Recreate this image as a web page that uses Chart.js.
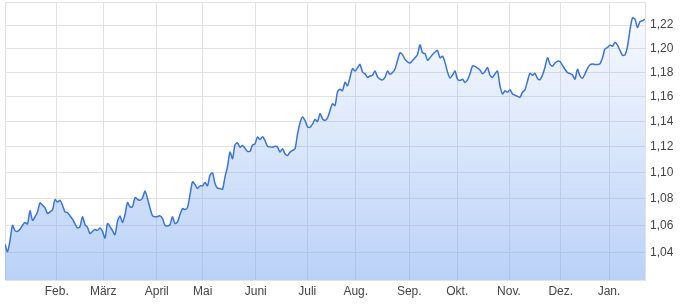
<!DOCTYPE html>
<html>
<head>
<meta charset="utf-8">
<script src="https://cdn.jsdelivr.net/npm/chart.js@4"></script>
<style>
  html, body { margin: 0; padding: 0; background: #fff; }
  #wrap { width: 680px; height: 308px; }
</style>
</head>
<body>
<div id="wrap"><canvas id="chart" width="680" height="308"></canvas></div>
<script>
// daily closes, one per trading day (index 0 = first day shown)
const closeValues = [
  1.046, 1.0405, 1.0487, 1.060, 1.056, 1.0555, 1.057, 1.060, 1.062, 1.061,
  1.0708, 1.0637, 1.0663, 1.070, 1.0768, 1.075, 1.073, 1.0688, 1.070, 1.0715,
  1.0793, 1.0775, 1.0787, 1.075, 1.070, 1.0695, 1.067, 1.0645, 1.061, 1.058,
  1.059, 1.0663, 1.0605, 1.0585, 1.0538, 1.0555, 1.0568, 1.0562, 1.058, 1.0555,
  1.0505, 1.0613, 1.059, 1.056, 1.053, 1.063, 1.067, 1.062, 1.068, 1.077,
  1.0738, 1.0738, 1.0808, 1.0795, 1.0787, 1.0805, 1.0859, 1.080, 1.073, 1.0672,
  1.0663, 1.0665, 1.067, 1.065, 1.060, 1.0595, 1.0605, 1.0663, 1.0613, 1.0625,
  1.068, 1.0725, 1.0718, 1.0733, 1.083, 1.0928, 1.0908, 1.0877, 1.0898, 1.0898,
  1.0923, 1.0898, 1.098, 1.0998, 1.0915, 1.088, 1.0877, 1.0872, 1.0967, 1.1044,
  1.1159, 1.1108, 1.1216, 1.1232, 1.1198, 1.121, 1.119, 1.1165, 1.1165, 1.1215,
  1.1224, 1.1278, 1.1258, 1.128, 1.125, 1.1205, 1.12, 1.1198, 1.1204, 1.12,
  1.116, 1.1185, 1.1146, 1.1133, 1.1159, 1.1172, 1.1185, 1.13, 1.139, 1.1438,
  1.141, 1.136, 1.1355, 1.138, 1.1418, 1.1402, 1.1464, 1.1424, 1.141, 1.143,
  1.149, 1.1544, 1.153, 1.164, 1.1662, 1.1651, 1.1719, 1.1692, 1.176, 1.1833,
  1.1813, 1.184, 1.1868, 1.1805, 1.179, 1.176, 1.1772, 1.1778, 1.1813, 1.1765,
  1.1746, 1.174, 1.176, 1.1813, 1.1786, 1.18, 1.183, 1.19, 1.1965, 1.195,
  1.191, 1.189, 1.188, 1.19, 1.1923, 1.1951, 1.2033, 1.1965, 1.1959, 1.1904,
  1.1923, 1.1951, 1.197, 1.1985, 1.1923, 1.1937, 1.1885, 1.1805, 1.1755, 1.178,
  1.1813, 1.1745, 1.1735, 1.1745, 1.1719, 1.174, 1.179, 1.1855, 1.1852, 1.1838,
  1.1821, 1.179, 1.181, 1.1841, 1.1778, 1.176, 1.179, 1.1813, 1.169, 1.1624,
  1.1651, 1.1638, 1.1659, 1.1624, 1.1615, 1.1605, 1.1598, 1.1638, 1.166, 1.173,
  1.1794, 1.1778, 1.1794, 1.175, 1.1741, 1.178, 1.1845, 1.1923, 1.187, 1.1854,
  1.188, 1.1895, 1.1892, 1.186, 1.1827, 1.18, 1.1792, 1.178, 1.1746, 1.1827,
  1.1772, 1.1754, 1.179, 1.1835, 1.1865, 1.1872, 1.1868, 1.1868, 1.1874, 1.1923,
  1.1998, 1.201, 1.203, 1.202, 1.2055, 1.203, 1.1985, 1.1945, 1.1948, 1.202,
  1.216, 1.2263, 1.2252, 1.218, 1.223, 1.2238, 1.2252
];

// month starts, in trading-day index
const monthLabels = ["Feb.", "März", "April", "Mai", "Juni", "Juli", "Aug.", "Sep.", "Okt.", "Nov.", "Dez.", "Jan."];
const monthStarts = [20.7, 39.3, 60.7, 79.1, 100.3, 120.9, 140.3, 161.7, 180.9, 201.6, 222.3, 241.6];
const dayMin = 0;
const dayMax = 256;

const yTicks = [1.02, 1.04, 1.06, 1.08, 1.10, 1.12, 1.14, 1.16, 1.18, 1.20, 1.22, 1.24];
const yLabelled = [1.04, 1.06, 1.08, 1.10, 1.12, 1.14, 1.16, 1.18, 1.20, 1.22];
const yMin = 1.02;
const yMax = 1.24;

const gridColor = "#e2e2e2";
const labelColor = "#444";

function formatDe(value) {
  return value.toFixed(2).replace(".", ",");
}

function fillGradient(context) {
  const area = context.chart.chartArea;
  if (!area) return "rgba(120,165,240,0.3)";
  const g = context.chart.ctx.createLinearGradient(0, area.top, 0, area.bottom);
  g.addColorStop(0, "rgba(120,165,240,0.04)");
  g.addColorStop(1, "rgba(110,160,240,0.48)");
  return g;
}

new Chart(document.getElementById("chart"), {
  type: "line",
  data: {
    datasets: [{
      data: closeValues.map((v, i) => ({ x: i, y: v })),
      borderColor: "#3b74d3",
      borderWidth: 1.5,
      backgroundColor: fillGradient,
      fill: "start",
      tension: 0.25,
      pointRadius: 0
    }]
  },
  options: {
    responsive: false,
    animation: false,
    layout: { padding: { left: 5, top: 2, right: 0, bottom: 0 } },
    plugins: {
      legend: { display: false },
      tooltip: { enabled: false }
    },
    scales: {
      x: {
        type: "linear",
        min: dayMin,
        max: dayMax,
        afterBuildTicks: (scale) => {
          scale.ticks = [dayMin, ...monthStarts, dayMax].map(v => ({ value: v }));
        },
        afterFit: (scale) => {
          scale.height = 28;
          scale.paddingLeft = 0;
          scale.paddingRight = 0;
        },
        ticks: {
          autoSkip: false,
          maxRotation: 0,
          padding: 4,
          color: labelColor,
          font: { family: "Liberation Sans, Arial, sans-serif", size: 12 },
          callback: (value) => {
            const i = monthStarts.indexOf(value);
            return i >= 0 ? monthLabels[i] : "";
          }
        },
        grid: { color: gridColor, drawTicks: false },
        border: { color: gridColor }
      },
      y: {
        type: "logarithmic",
        position: "right",
        min: yMin,
        max: yMax,
        afterBuildTicks: (scale) => {
          scale.ticks = yTicks.map(v => ({ value: v }));
        },
        afterFit: (scale) => {
          scale.width = 35;
          scale.paddingTop = 0;
          scale.paddingBottom = 0;
        },
        ticks: {
          autoSkip: false,
          padding: 5,
          color: labelColor,
          font: { family: "Liberation Sans, Arial, sans-serif", size: 12 },
          callback: (value) => yLabelled.some(t => Math.abs(t - value) < 1e-6) ? formatDe(value) : ""
        },
        grid: { color: gridColor, drawTicks: false },
        border: { color: gridColor }
      }
    }
  }
});
</script>
</body>
</html>
